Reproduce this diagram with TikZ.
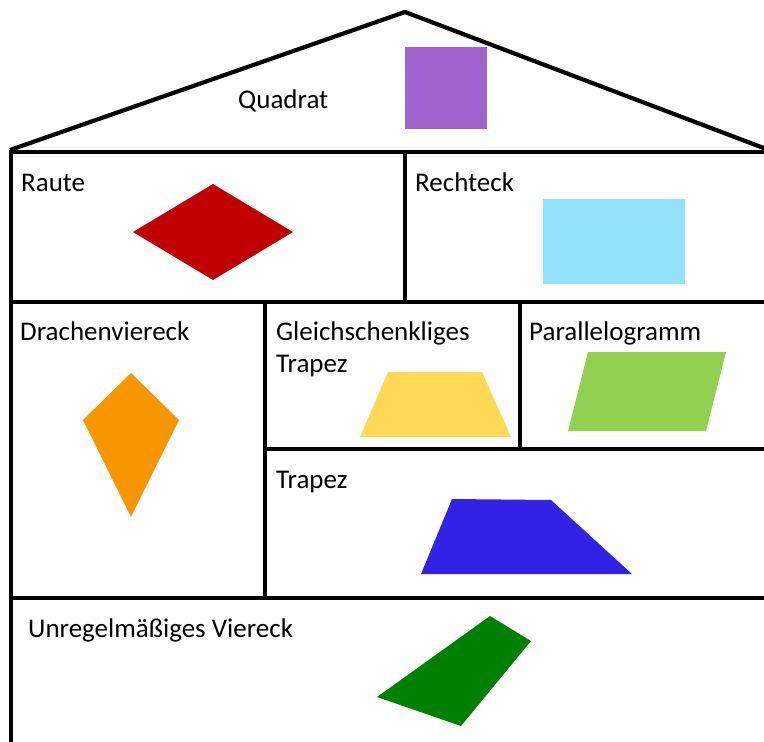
\documentclass[tikz,border=0pt]{standalone}
\usepackage{fontspec}
\setmainfont{Carlito}
\definecolor{cpurple}{HTML}{A163CE}
\definecolor{cred}{HTML}{C00000}
\definecolor{cblue}{HTML}{93E2FB}
\definecolor{corange}{HTML}{F79600}
\definecolor{cyellow}{HTML}{FFD955}
\definecolor{cgreenl}{HTML}{92D050}
\definecolor{cblued}{HTML}{3122E6}
\definecolor{cgreen}{HTML}{008000}
\begin{document}
\begin{tikzpicture}[x=1pt,y=-1pt,
  wall/.style={line width=4.2pt,black,line join=miter},
  lbl/.style={anchor=base west,inner sep=0pt,font=\fontsize{27}{32}\selectfont}]
\useasboundingbox (0,0) rectangle (764,742);
% roof
\draw[wall,line join=round] (10,150) -- (405,12) -- (790,158);
% frame
\draw[wall] (11,760) -- (11,152) -- (780,152);
\draw[wall] (405,152) -- (405,302);
\draw[wall] (11,302) -- (780,302);
\draw[wall] (265,302) -- (265,598);
\draw[wall] (520,302) -- (520,449);
\draw[wall] (265,449) -- (780,449);
\draw[wall] (11,598) -- (780,598);
% shapes
\fill[cpurple] (405,47) rectangle (487,129);
\fill[cred] (133,232) -- (213,184) -- (293,232) -- (213,280) -- cycle;
\fill[cblue] (543,199) rectangle (685,284);
\fill[corange] (131,373) -- (179,420) -- (131,517) -- (83,420) -- cycle;
\fill[cyellow] (388,372) -- (482,372) -- (511,437) -- (360,437) -- cycle;
\fill[cgreenl] (588,352) -- (726,352) -- (706,431) -- (568,431) -- cycle;
\fill[cblued] (452,499) -- (551,500) -- (632,574) -- (421,574) -- cycle;
\fill[cgreen] (490,616) -- (531,641) -- (461,726) -- (377,697) -- cycle;
% labels
\node[lbl] (quadrat) at (238,108) {Quadrat};
\node[lbl] (raute) at (21,191) {Raute};
\node[lbl] (rechteck) at (415,191) {Rechteck};
\node[lbl] (drachen) at (20,340) {Drachenviereck};
\node[lbl] (gleich) at (276,340) {Gleichschenkliges};
\node[lbl] (gleich2) at (276,372) {Trapez};
\node[lbl] (para) at (529,340) {Parallelogramm};
\node[lbl] (trapez) at (276,488) {Trapez};
\node[lbl] (unreg) at (28,637) {Unregelmäßiges Viereck};
\end{tikzpicture}
\end{document}
